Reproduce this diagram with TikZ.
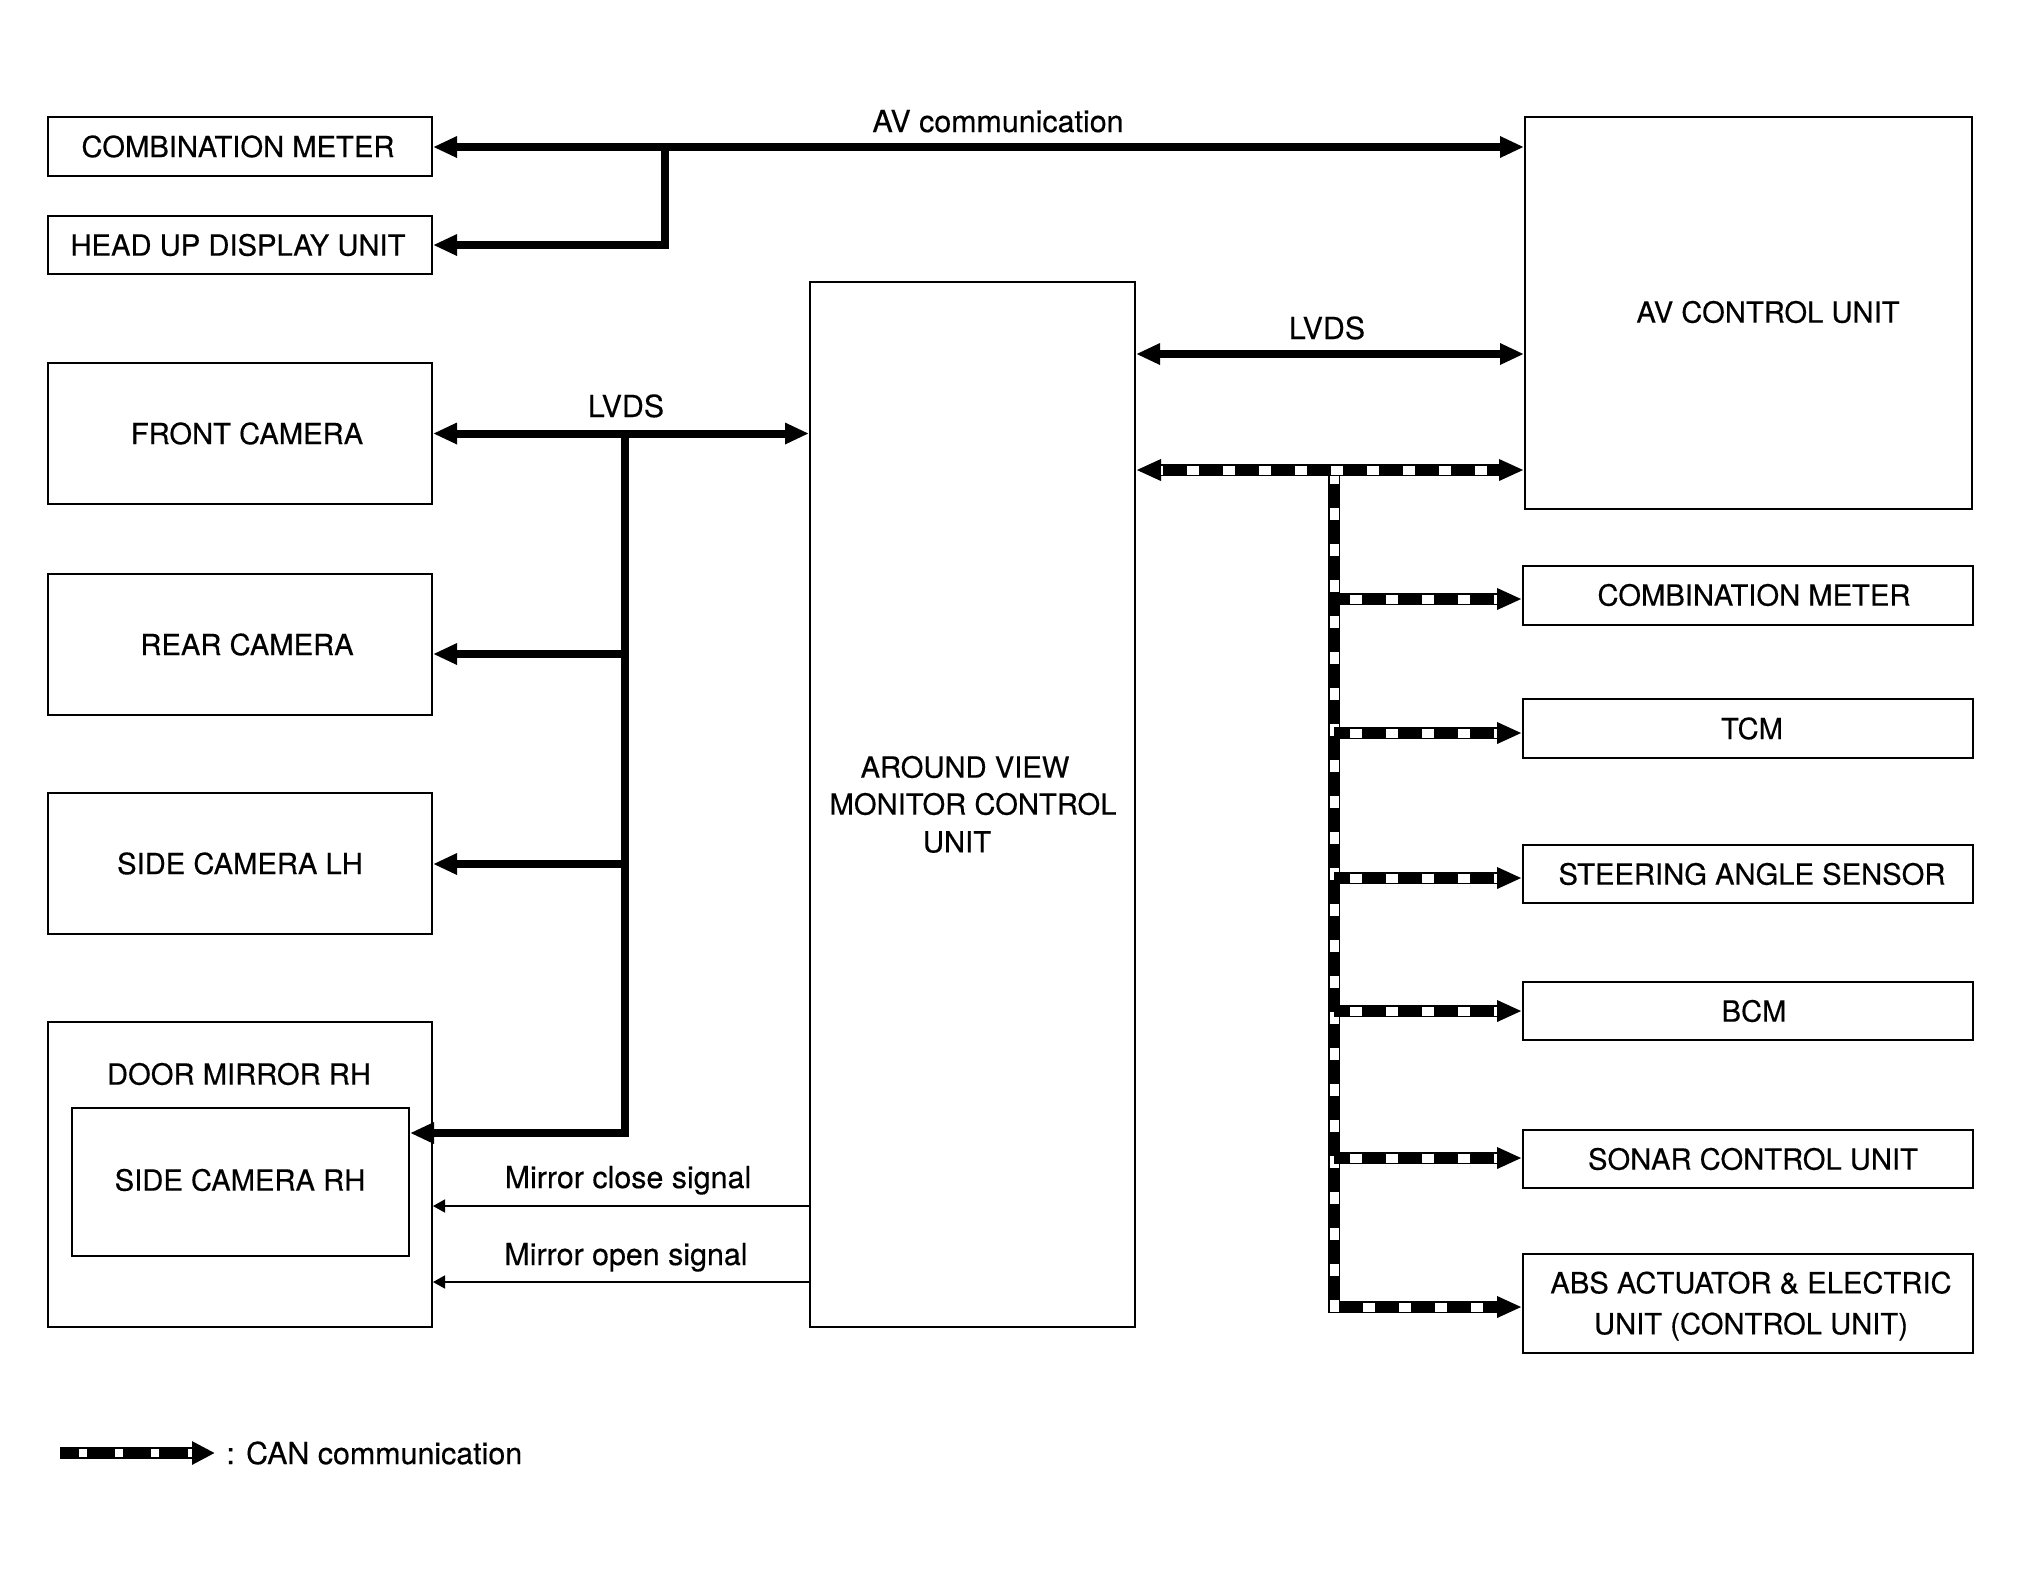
\documentclass[tikz,border=0pt]{standalone}
\usepackage{fontspec}
\setmainfont{TeX Gyre Heros}[FakeBold=0.35]
\usetikzlibrary{arrows.meta}
\tikzset{
  bigtip/.tip={Triangle[length=12pt,width=10pt]},
  cantip/.tip={Triangle[length=12.5pt,width=10pt]},
  smalltip/.tip={Triangle[length=6pt,width=6.5pt]},
  legtip/.tip={Triangle[length=11.5pt,width=11pt]},
}
\begin{document}
\begin{tikzpicture}[x=0.5pt,y=-0.5pt,
  box/.style={draw, line width=1pt, inner sep=0pt, minimum width=#1},
  box/.default=192pt,
  txt/.style={inner sep=0pt, font=\fontsize{14.6pt}{17pt}\selectfont},
  lbl/.style={inner sep=0pt, font=\fontsize{15.2pt}{18pt}\selectfont, anchor=base},
  thk/.style={line width=4pt, line join=miter},
  thin/.style={line width=0.75pt},
  canR/.style={line width=6pt, line join=miter,
    postaction={draw=white, line width=4.5pt, arrows=-, dash pattern=on 6pt off 12pt, dash phase=#1, shorten >=12.5pt}},
  canR/.default=10pt,
  canLR/.style={line width=6pt, line join=miter,
    postaction={draw=white, line width=4.5pt, arrows=-, dash pattern=on 6pt off 12pt, dash phase=#1, shorten >=12.5pt, shorten <=12.5pt}},
  canLR/.default=5pt,
  canLeg/.style={line width=6.3pt,
    postaction={draw=white, line width=3.9pt, arrows=-, dash pattern=on 4pt off 14.2pt, dash phase=8.95pt, shorten >=11.5pt}},
]
\path[use as bounding box, fill=white] (0,0) rectangle (2020,1571);

% ---------- left column ----------
\node[box, minimum height=29.5pt] (cm1) at (240,146.5) {};
\node[txt] (cm1t) at (238,146.5) {COMBINATION METER};
\node[box, minimum height=29pt] (hud) at (240,245) {};
\node[txt] (hudt) at (238,245) {HEAD UP DISPLAY UNIT};
\node[box, minimum height=70.5pt] (fc) at (240,433.5) {};
\node[txt] (fct) at (247,433.5) {FRONT CAMERA};
\node[box, minimum height=70.5pt] (rc) at (240,644.5) {};
\node[txt] (rct) at (247,644.5) {REAR CAMERA};
\node[box, minimum height=70.5pt] (slh) at (240,863.5) {};
\node[txt] (slht) at (240,863.5) {SIDE CAMERA LH};
\node[box, minimum height=152.5pt] (dm) at (240,1174.5) {};
\node[txt] (dmt) at (239,1074) {DOOR MIRROR RH};
\node[box=168.5pt, minimum height=74pt] (scrh) at (240.5,1182) {};
\node[txt] (scrht) at (240,1180) {SIDE CAMERA RH};

% ---------- centre ----------
\node[box=162.5pt, minimum height=522.5pt] (avm) at (972.5,804.5) {};
\node[txt] (avmt1) at (965,767) {AROUND VIEW};
\node[txt] (avmt2) at (973,804) {MONITOR CONTROL};
\node[txt] (avmt3) at (957,842) {UNIT};

% ---------- right column ----------
\node[box=223.5pt, minimum height=196pt] (av) at (1748.5,313) {};
\node[txt] (avt) at (1768,312) {AV CONTROL UNIT};
\node[box=225pt, minimum height=29.5pt] (cm2) at (1748,595) {};
\node[txt] (cm2t) at (1754,595) {COMBINATION METER};
\node[box=225pt, minimum height=29.5pt] (tcm) at (1748,728.5) {};
\node[txt] (tcmt) at (1752,728.5) {TCM};
\node[box=225pt, minimum height=29pt] (ste) at (1748,874) {};
\node[txt] (stet) at (1752,874) {STEERING ANGLE SENSOR};
\node[box=225pt, minimum height=29pt] (bcm) at (1748,1011) {};
\node[txt] (bcmt) at (1754,1011) {BCM};
\node[box=225pt, minimum height=29pt] (son) at (1748,1159) {};
\node[txt] (sont) at (1753,1159) {SONAR CONTROL UNIT};
\node[box=225pt, minimum height=49.5pt] (abs) at (1748,1303.5) {};
\node[txt, align=center, font=\fontsize{14.6pt}{20.5pt}\selectfont] (abst) at (1751,1306) {ABS ACTUATOR \& ELECTRIC\\UNIT (CONTROL UNIT)};

% ---------- AV communication ----------
\coordinate (j1) at (665,147);
\draw[thk, bigtip-bigtip] (cm1.east |- j1) -- (av.west |- j1);
\draw[thk, -bigtip] (j1) |- (hud.east);
\node[lbl] (avc) at (998,132) {AV communication};

% ---------- LVDS right ----------
\coordinate (lv1) at (1300,354);
\draw[thk, bigtip-bigtip] (avm.east |- lv1) -- (av.west |- lv1);
\node[lbl] (lvds1) at (1327,339) {LVDS};

% ---------- LVDS left ----------
\coordinate (lvT) at (625,433.5);
\coordinate (lvB) at (625,1133);
\coordinate (r1) at (625,654);
\coordinate (r2) at (625,864);
\draw[thk, bigtip-bigtip] (fc.east) -- (avm.west |- fc.east);
\draw[thk, -bigtip] (lvT) -- (lvB) -- (scrh.east |- lvB);
\draw[thk, -bigtip] (r1) -- (rc.east |- r1);
\draw[thk, -bigtip] (r2) -- (slh.east |- r2);
\node[lbl] (lvds2) at (626,417) {LVDS};

% ---------- mirror signals ----------
\coordinate (m1) at (810,1206);
\coordinate (m2) at (810,1282);
\draw[thin, -smalltip] (avm.west |- m1) -- (dm.east |- m1);
\draw[thin, -smalltip] (avm.west |- m2) -- (dm.east |- m2);
\node[lbl] (mcs) at (628,1188) {Mirror close signal};
\node[lbl] (mos) at (626,1265) {Mirror open signal};

% ---------- CAN ----------
\coordinate (busTop) at (1334,470);
\coordinate (busBot) at (1334,1307);
\coordinate (b1) at (1334,599);
\coordinate (b2) at (1334,733);
\coordinate (b3) at (1334,878);
\coordinate (b4) at (1334,1011);
\coordinate (b5) at (1334,1158);
\draw[canR=17pt, -cantip] (busTop) -- (busBot) -- (abs.west |- busBot);
\draw[canR, -cantip] (b1) -- (cm2.west |- b1);
\draw[canR, -cantip] (b2) -- (tcm.west |- b2);
\draw[canR, -cantip] (b3) -- (ste.west |- b3);
\draw[canR, -cantip] (b4) -- (bcm.west |- b4);
\draw[canR, -cantip] (b5) -- (son.west |- b5);
\draw[canLR, cantip-cantip] (avm.east |- busTop) -- (av.west |- busTop);

% ---------- legend ----------
\coordinate (lg1) at (60,1453);
\coordinate (lg2) at (215,1453);
\draw[canLeg, -legtip] (lg1) -- (lg2);
\node[txt, font=\fontsize{15.2pt}{18pt}\selectfont, anchor=west] (lgt) at (226,1453) {: CAN communication};
\end{tikzpicture}
\end{document}
